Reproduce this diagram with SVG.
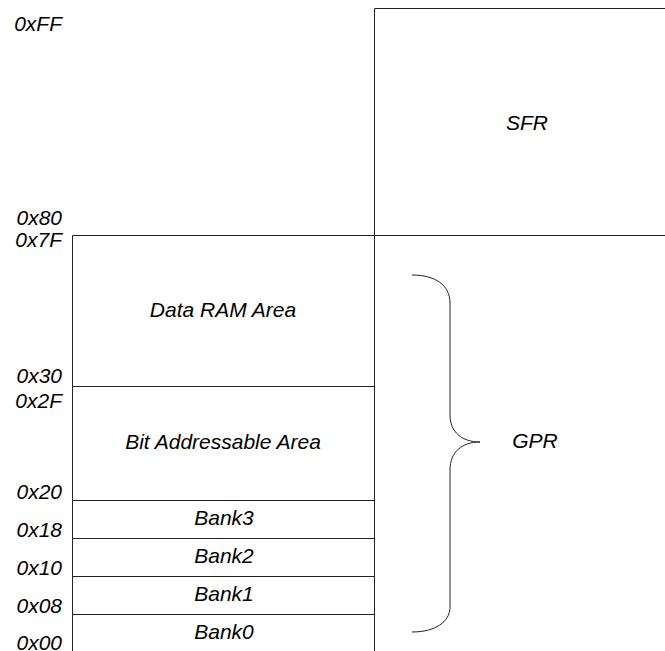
<svg xmlns="http://www.w3.org/2000/svg" width="665" height="651" viewBox="0 0 665 651">
<style>
.ln{fill:none;stroke:#222;stroke-width:1}
.t{font-family:"Liberation Sans",Arial,sans-serif;font-style:italic;font-size:21px;fill:#000}
.a{text-anchor:end}
.c{text-anchor:middle}
</style>
<rect width="665" height="651" fill="#fff"/>
<g id="sfr">
<path class="ln" d="M374.5,651 V8.5 H666"/>
<text class="t c" x="527" y="130">SFR</text>
</g>
<g id="gpr-box">
<path class="ln" d="M72.5,651 V235.5 H666"/>
</g>
<g id="data-ram">
<text class="t c" x="223" y="317">Data RAM Area</text>
</g>
<g id="bit-addr">
<path class="ln" d="M72.5,386.5 H374.5"/>
<text class="t c" x="223" y="449">Bit Addressable Area</text>
</g>
<g id="bank3">
<path class="ln" d="M72.5,500.5 H374.5"/>
<text class="t c" x="224" y="525">Bank3</text>
</g>
<g id="bank2">
<path class="ln" d="M72.5,538.5 H374.5"/>
<text class="t c" x="224" y="563">Bank2</text>
</g>
<g id="bank1">
<path class="ln" d="M72.5,576.5 H374.5"/>
<text class="t c" x="224" y="601">Bank1</text>
</g>
<g id="bank0">
<path class="ln" d="M72.5,614.5 H374.5"/>
<text class="t c" x="224" y="639">Bank0</text>
</g>
<g id="addresses">
<text class="t a" x="62" y="31">0xFF</text>
<text class="t a" x="62" y="225">0x80</text>
<text class="t a" x="62" y="247">0x7F</text>
<text class="t a" x="62" y="383">0x30</text>
<text class="t a" x="62" y="408">0x2F</text>
<text class="t a" x="62" y="499">0x20</text>
<text class="t a" x="62" y="537">0x18</text>
<text class="t a" x="62" y="575">0x10</text>
<text class="t a" x="62" y="613">0x08</text>
<text class="t a" x="62" y="650">0x00</text>
</g>
<g id="connectors">
<path class="ln" d="M412,275 C435,275 450,285 450,303 L450,415 C450,432 462,442 480,442 C462,442 450,452 450,470 L450,607 C450,622 435,632 412,632"/>
</g>
<g id="gpr-label">
<text class="t c" x="535" y="448">GPR</text>
</g>
</svg>
